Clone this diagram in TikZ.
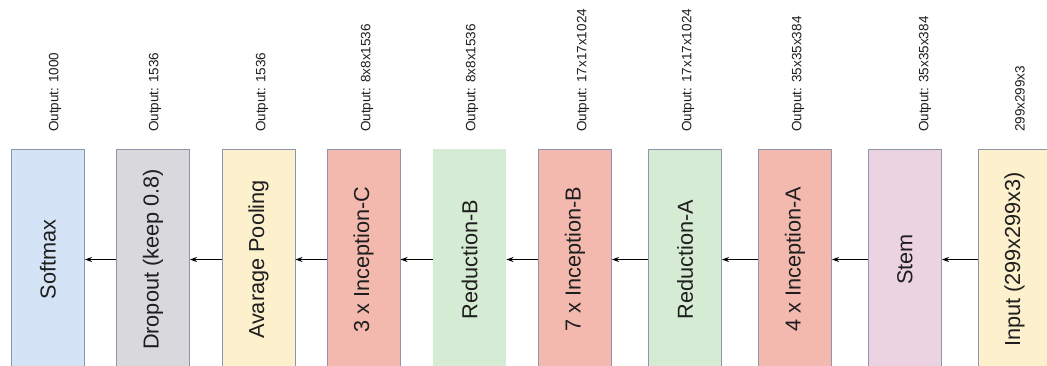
\documentclass[tikz,border=0pt]{standalone}
\usepackage{fontspec}
\setmainfont{Liberation Sans}
\usepackage{graphicx}
\usetikzlibrary{arrows.meta}

\definecolor{softF}{HTML}{D4E4F6}
\definecolor{dropF}{HTML}{D8D8DD}
\definecolor{poolF}{HTML}{FDF0CC}
\definecolor{incF}{HTML}{F4B9AE}
\definecolor{redF}{HTML}{D6EBD3}
\definecolor{stemF}{HTML}{ECD3E2}
\definecolor{inF}{HTML}{FDF0CC}
\definecolor{edge}{HTML}{8E95AC}
\definecolor{ink}{HTML}{1E1E1E}

\tikzset{
  layer/.style={draw=edge, line width=0.9pt, minimum width=73pt,
    minimum height=221pt, inner sep=0pt, text=ink,
    font=\fontsize{21.7}{26}\selectfont},
  shape label/.style={rotate=90, anchor=west, inner sep=0pt, text=ink,
    font=\fontsize{13.5}{16}\selectfont},
  flow/.style={line width=1.2pt, -{Stealth[length=7pt,width=5pt]}}
}

\newcommand{\vtext}[1]{\rotatebox{90}{#1}}

\begin{document}
\begin{tikzpicture}[x=1pt,y=-1pt]
  \useasboundingbox (0,0) rectangle (1047,365);
  \clip (0,0) rectangle (1047,365);

  % network layers, output side on the left
  \node[layer, fill=softF] (soft) at (48,259.5)    {\vtext{Softmax}};
  \node[layer, fill=dropF] (drop) at (153,259.5)   {\vtext{Dropout (keep 0.8)}};
  \node[layer, fill=poolF] (pool) at (258.5,259.5) {\vtext{Avarage Pooling}};
  \node[layer, fill=incF]  (incc) at (363.5,259.5) {\vtext{3 x Inception-C}};
  \node[layer, fill=redF, draw=none] (redb) at (469.5,259.5) {\vtext{Reduction-B}};
  \node[layer, fill=incF]  (incb) at (575,259.5)   {\vtext{7 x Inception-B}};
  \node[layer, fill=redF]  (reda) at (685,259.5)   {\vtext{Reduction-A}};
  \node[layer, fill=incF]  (inca) at (795,259.5)   {\vtext{4 x Inception-A}};
  \node[layer, fill=stemF] (stem) at (905,259.5)   {\vtext{Stem}};
  \node[layer, fill=inF]   (inp)  at (1014.5,259.5){\vtext{Input (299x299x3)}};

  % output shape of each layer
  \node[shape label] (l1)  at (55,132)   {Output: 1000};
  \node[shape label] (l2)  at (155,132)  {Output: 1536};
  \node[shape label] (l3)  at (262,132)  {Output: 1536};
  \node[shape label] (l4)  at (367,132)  {Output: 8x8x1536};
  \node[shape label] (l5)  at (472,132)  {Output: 8x8x1536};
  \node[shape label] (l6)  at (583,132)  {Output: 17x17x1024};
  \node[shape label] (l7)  at (688,132)  {Output: 17x17x1024};
  \node[shape label] (l8)  at (798,132)  {Output: 35x35x384};
  \node[shape label] (l9)  at (925,132)  {Output: 35x35x384};
  \node[shape label] (l10) at (1020,132) {299x299x3};

  % data flow, right to left
  \draw[flow] (drop.west) -- (soft.east);
  \draw[flow] (pool.west) -- (drop.east);
  \draw[flow] (incc.west) -- (pool.east);
  \draw[flow] (redb.west) -- (incc.east);
  \draw[flow] (incb.west) -- (redb.east);
  \draw[flow] (reda.west) -- (incb.east);
  \draw[flow] (inca.west) -- (reda.east);
  \draw[flow] (stem.west) -- (inca.east);
  \draw[flow] (inp.west)  -- (stem.east);
\end{tikzpicture}
\end{document}
